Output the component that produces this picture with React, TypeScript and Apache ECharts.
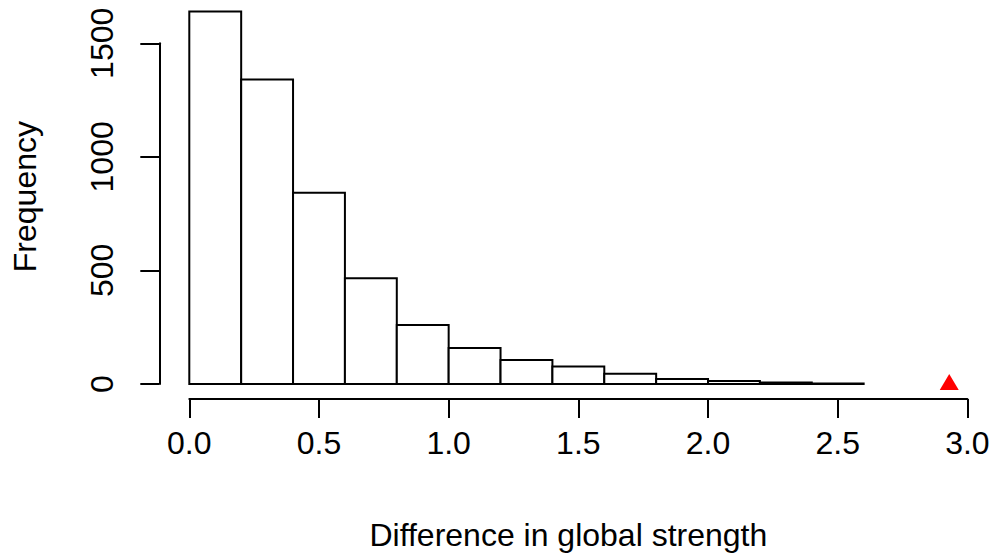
import React, { useEffect, useRef } from "react";
import * as echarts from "echarts";

const binStarts = [0.0, 0.2, 0.4, 0.6, 0.8, 1.0, 1.2, 1.4, 1.6, 1.8, 2.0, 2.2, 2.4];
const binEnds = [0.2, 0.4, 0.6, 0.8, 1.0, 1.2, 1.4, 1.6, 1.8, 2.0, 2.2, 2.4, 2.6];
const counts = [1640, 1341, 842, 465, 260, 158, 106, 77, 45, 22, 13, 7, 2];
const observed = [[2.93, 0]];
const xTickFormat = (v: number) => v.toFixed(1);
const yTickFormat = (v: number) => String(v);

const FONT = "'Liberation Sans', Arial, sans-serif";

export default function App() {
  const ref = useRef<HTMLDivElement>(null);
  useEffect(() => {
    document.body.style.margin = "0";
    const chart = echarts.init(ref.current!, null, { renderer: "svg" });
    const histData = binStarts.map((s, i) => [s, binEnds[i], counts[i]]);
    const lineStyle = { color: "#000", width: 2 };
    const labelStyle = { color: "#000", fontSize: 32, fontFamily: FONT };
    chart.setOption({
      animation: false,
      backgroundColor: "#fff",
      grid: [
        { left: 189.3, right: 27.6, top: 9.2, bottom: 174, outerBoundsMode: "none" },
        { left: 189.3, right: 27.6, top: 43.3, bottom: 174, outerBoundsMode: "none" },
      ],
      xAxis: [
        {
          gridIndex: 0,
          type: "value",
          min: 0,
          max: 3,
          interval: 0.5,
          offset: 15,
          axisLine: { show: true, onZero: false, lineStyle },
          axisTick: { show: true, length: 19, lineStyle },
          axisLabel: { ...labelStyle, margin: 28, formatter: xTickFormat },
          splitLine: { show: false },
          name: "Difference in global strength",
          nameLocation: "middle",
          nameGap: 120,
          nameTextStyle: { ...labelStyle, padding: [0, 20, 0, 0] },
        },
        { gridIndex: 1, type: "value", min: 0, max: 3, show: false },
      ],
      yAxis: [
        {
          gridIndex: 0,
          type: "value",
          min: 0,
          max: 1650,
          offset: 30,
          axisLine: { show: false, onZero: false },
          axisTick: { show: false },
          axisLabel: { show: false },
          splitLine: { show: false },
          name: "Frequency",
          nameLocation: "middle",
          nameGap: 118,
          nameTextStyle: labelStyle,
        },
        {
          gridIndex: 1,
          type: "value",
          min: 0,
          max: 1500,
          interval: 500,
          offset: 30,
          axisLine: { show: true, onZero: false, lineStyle },
          axisTick: { show: true, length: 19, lineStyle },
          axisLabel: { ...labelStyle, margin: 41, rotate: 90, formatter: yTickFormat },
          splitLine: { show: false },
        },
      ],
      series: [
        {
          type: "custom",
          xAxisIndex: 0,
          yAxisIndex: 0,
          data: histData,
          encode: { x: [0, 1], y: 2 },
          renderItem: (params: any, api: any) => {
            const p0 = api.coord([api.value(0), api.value(2)]);
            const p1 = api.coord([api.value(1), 0]);
            return {
              type: "rect",
              shape: { x: p0[0], y: p0[1], width: p1[0] - p0[0], height: p1[1] - p0[1] },
              style: { fill: "#fff", stroke: "#000", lineWidth: 2 },
            };
          },
        },
        {
          type: "scatter",
          xAxisIndex: 0,
          yAxisIndex: 0,
          data: observed,
          symbol: "triangle",
          symbolSize: [19, 16],
          symbolOffset: [0, -2],
          itemStyle: { color: "#ff0000", opacity: 1 },
        },
      ],
    });
    return () => chart.dispose();
  }, []);
  return <div ref={ref} style={{ width: 995, height: 558 }} />;
}
